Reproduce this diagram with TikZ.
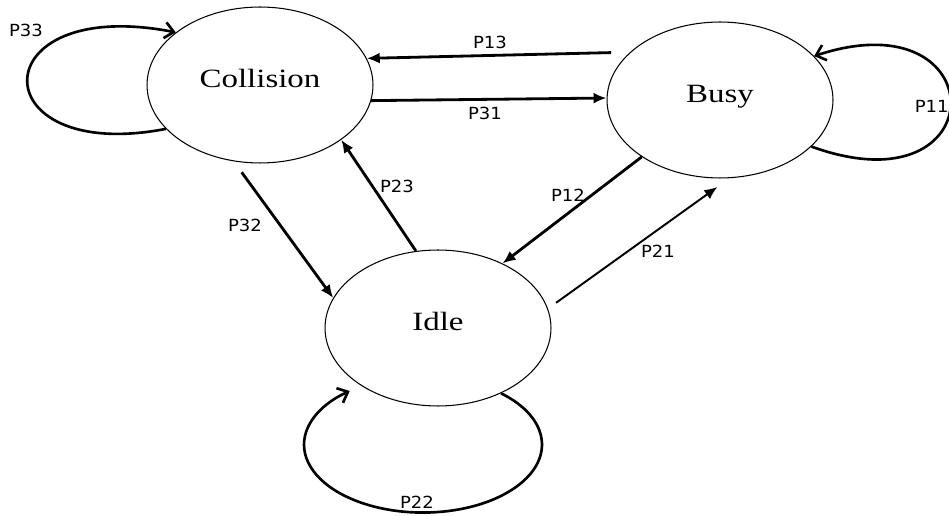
\documentclass[tikz,border=0pt]{standalone}
\usepackage{fontspec}
\setmainfont{Liberation Serif}
\newfontfamily\statefont[FakeStretch=1.25]{Liberation Serif}
\newfontfamily\probfont[FakeStretch=1.08]{DejaVu Sans}
\usetikzlibrary{arrows.meta,shapes.geometric}
\tikzset{>={Latex[length=2.6mm,width=2.2mm]}}
\tikzset{state/.style={draw, ellipse, line width=0.6pt, minimum width=4.52cm, minimum height=3.12cm, text height=0.7em, text depth=0.45em, font=\statefont\fontsize{15}{18}\selectfont}}
\tikzset{trans/.style={->, line width=1.6pt}}
\tikzset{selfloop/.style={-{Straight Barb[length=1.8mm,width=3.2mm]}, line width=1.5pt}}
\tikzset{prob/.style={font=\probfont\fontsize{9.5}{11}\selectfont, inner sep=0pt}}

\begin{document}
\begin{tikzpicture}[x=0.02cm,y=-0.02cm]
      \useasboundingbox (0,0) rectangle (949,516);
      \node[state] (coll) at (260,85) {Collision};
      \node[state] (busy) at (720,100) {Busy};
      \node[state] (idle) at (438,328) {Idle};
      \draw[trans, shorten <=0.38cm] (busy.152) -- (coll.14);
      \draw[trans] (coll.-8) -- (busy.179);
      \draw[trans] (idle.106) -- (coll.-34);
      \draw[trans, shorten <=0.27cm] (coll.-109) -- (idle.164);
      \draw[trans] (busy.-144) -- (idle.45);
      \draw[trans, line width=1.1pt, shorten <=0.2cm, shorten >=0.3cm] (idle.10) -- (busy.-83);
      \draw[selfloop] (coll.-155) .. controls +(-186,36) and +(-196,-38) .. (coll.148);
      \draw[selfloop] (busy.-27) .. controls +(185,67) and +(182,-60) .. (busy.25);
      \draw[selfloop] (idle.-46) arc[start angle=49, end angle=-232, x radius=2.38cm, y radius=1.36cm];
      \node[prob] (p33) at (26,30) {P33};
      \node[prob] (p13) at (490,42) {P13};
      \node[prob] (p31) at (485,113) {P31};
      \node[prob] (p23) at (397,186) {P23};
      \node[prob] (p32) at (245,225) {P32};
      \node[prob] (p12) at (568,195) {P12};
      \node[prob] (p21) at (658,251) {P21};
      \node[prob, anchor=east] (p11) at (949,106) {P11};
      \node[prob] (p22) at (417,502) {P22};
    \end{tikzpicture}
\end{document}
